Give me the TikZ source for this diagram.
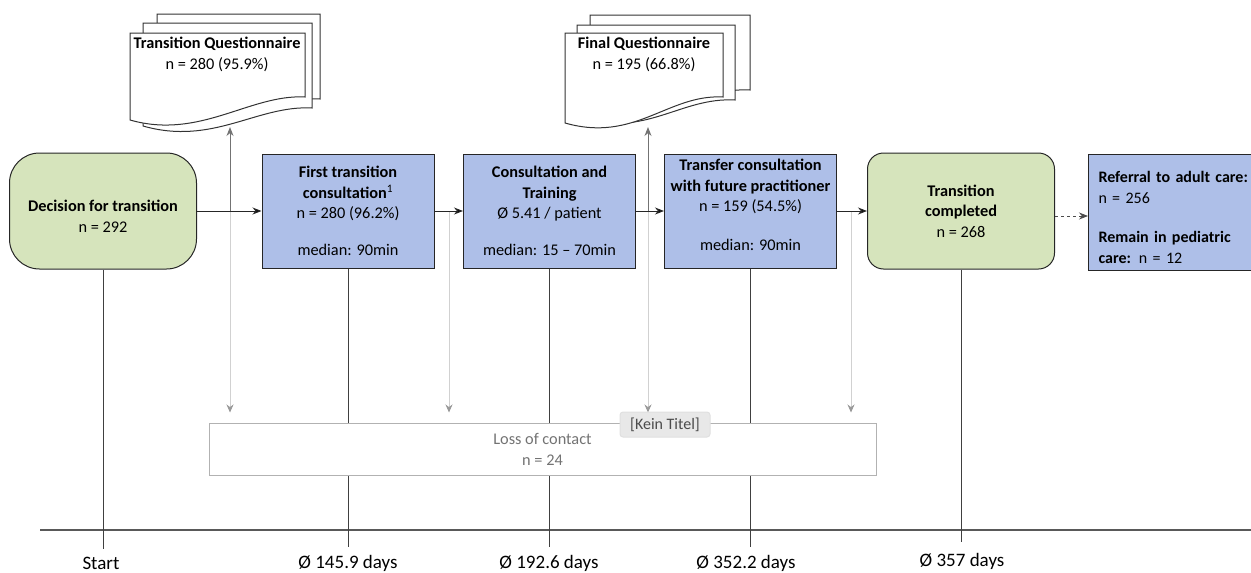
\documentclass[tikz,border=0pt]{standalone}
\usepackage{fontspec}
\setmainfont{Carlito}
\usetikzlibrary{arrows.meta}

\definecolor{termgreen}{HTML}{D6E4BC}
\definecolor{stepblue}{HTML}{AEBFE8}
\definecolor{lossgray}{HTML}{C9C9C9}

% one sheet of a document stack: x0, top, x1, left bottom, right bottom
\newcommand{\docpage}[5]{%
  \filldraw[draw=black!80, fill=white, line width=1pt]
    (#1,#2) -- (#3,#2) -- (#3,#5)
    .. controls ({#3-55},{#5-3}) and ({#1+70},{#4+20}) .. (#1,#4) -- cycle;}

\begin{document}
\begin{tikzpicture}[x=1pt, y=-1pt, >={Stealth[length=9pt,width=7pt]}, line width=1pt,
    font=\fontsize{16.3}{20.5}\selectfont,
    greenbox/.style={draw=black!85, fill=termgreen, align=center, minimum width=187pt, minimum height=116pt},
    bluebox/.style={draw=black!85, fill=stepblue, align=center, minimum width=172pt, minimum height=114pt},
    timeline/.style={draw=black!75, line width=0.8pt, shorten >=5pt},
    lossline/.style={draw=black!18, line width=0.8pt, -{Stealth[length=8pt,width=7pt,color=black!40]}},
    daylabel/.style={font=\fontsize{19}{22}\selectfont, inner sep=2pt}]
    \path[use as bounding box, clip] (0,0) rectangle (1251,573);

    % questionnaires
    \docpage{157}{14}{320}{118}{99}
    \docpage{143}{23}{312}{126}{108}
    \docpage{130}{33}{305}{120}{97}
    \node[align=center, font=\fontsize{16.3}{21}\selectfont] (q1) at (217,54) {\textbf{Transition Questionnaire}\\n = 280 (95.9\%)};
    \docpage{590}{15}{750}{110}{90}
    \docpage{577}{25}{735}{118}{100}
    \docpage{565}{33}{723}{123}{97}
    \node[align=center, font=\fontsize{16.3}{21}\selectfont] (q2) at (644,54) {\textbf{Final Questionnaire}\\n = 195 (66.8\%)};
    \coordinate (q1b) at (230,127);
    \coordinate (q2b) at (648,127);

    % steps
    \node[greenbox, rounded corners=30pt] (0) at (103,211) {\rule{0pt}{22pt}\textbf{Decision for transition}\\n = 292};
    \node[bluebox] (1) at (348,211) {\textbf{First transition}\\\textbf{consultation}\textsuperscript{1}\\n = 280 (96.2\%)\\[16pt]median: 90min};
    \node[bluebox] (2) at (549.5,211) {\textbf{Consultation and}\\\textbf{Training}\\Ø 5.41 / patient\\[16pt]median: 15 -- 70min};
    \node[bluebox] (3) at (750.5,211) {\textbf{Transfer consultation}\\\textbf{with future practitioner}\\n = 159 (54.5\%)\\[18pt]median: 90min\rule[-12pt]{0pt}{0pt}};
    \node[greenbox, rounded corners=16pt] (4) at (961,211) {\textbf{Transition}\\\textbf{completed}\\n = 268};
    \node[bluebox, anchor=west, align=left, text width=165pt, minimum width=0pt, inner xsep=10pt, minimum height=116pt,
        font=\fontsize{16}{20.5}\selectfont] (5) at (1088,212)
        {\rule{0pt}{22pt}\textbf{Referral to adult care:}\\n = 256\\[19pt]\textbf{Remain in pediatric}\\\textbf{care:} n = 12};

    % time axis
    \draw[black!65, line width=1.3pt] (40,530) -- (1251,530);
    \node[daylabel] (d0) at (101,563) {Start};
    \node[daylabel] (d1) at (348,563) {Ø 145.9 days};
    \node[daylabel] (d2) at (549,563) {Ø 192.6 days};
    \node[daylabel] (d3) at (746,563) {Ø 352.2 days};
    \node[daylabel] (d4) at (962,561) {Ø 357 days};
    \draw[timeline] (0.south) -- (0.south |- d0.north);
    \draw[timeline] (1.south) -- (1.south |- d1.north);
    \draw[timeline] (2.south) -- (2.south |- d2.north);
    \draw[timeline] (3.south) -- (3.south |- d3.north);
    \draw[timeline, shorten >=8pt] (4.south) -- (4.south |- d4.north);

    % loss of contact
    \node[draw=black!30, fill=white, text=black!55, align=center, minimum width=667pt, minimum height=52pt,
        font=\fontsize{16.3}{21}\selectfont] (6) at (542.5,449) {Loss of contact\\n = 24};
    \coordinate (a1) at (230,211);
    \coordinate (a2) at (449,211);
    \coordinate (a3) at (648,211);
    \coordinate (a4) at (851,211);
    \foreach \a in {a1,a2,a3,a4}
        \draw[lossline] (\a) -- ([yshift=10pt]6.north -| \a);
    \draw[->, black!55] (a1) -- (q1b);
    \draw[->, black!55] (a3) -- (q2b);

    \path[->, draw=black!85] (0) edge (1)
                             (1) edge (2)
                             (2) edge (3)
                             (3) edge (4);
    \draw[->, dashed, black!70, line width=0.8pt] ([yshift=-5pt]4.east) -- ([yshift=-5pt]4.east -| 5.west);

    \node[fill=black!9, draw=black!12, rounded corners=3pt, text=black!70, font=\fontsize{16}{18}\selectfont,
        minimum width=90pt, minimum height=25pt, inner sep=2pt] (7) at (665,424.5) {[Kein Titel]};
\end{tikzpicture}
\end{document}
